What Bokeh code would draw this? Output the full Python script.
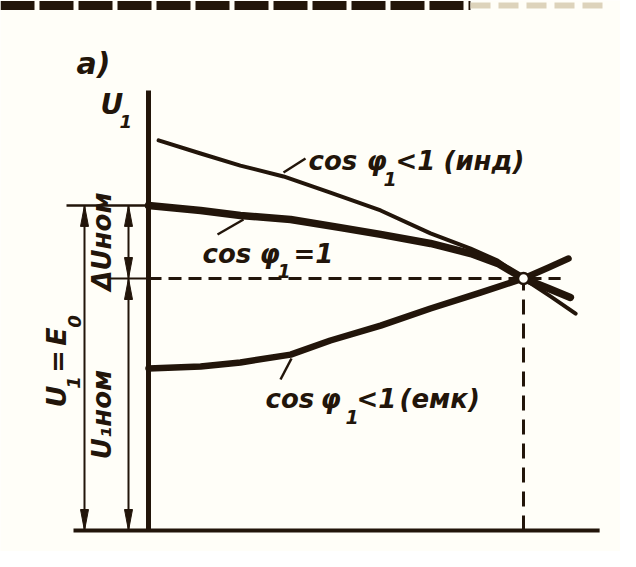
from bokeh.plotting import figure
from bokeh.models import Range1d
from bokeh.embed import file_html
from bokeh.resources import INLINE
from bokeh.core.properties import value
import numpy as np

# ---- data: current I/I_nom and voltage U/U_nom ----
I_ind = [0.027, 0.139, 0.245, 0.360, 0.485, 0.619, 0.752, 0.859, 0.931, 1.0, 1.072, 1.139]
U_ind = [1.548, 1.496, 1.448, 1.405, 1.341, 1.270, 1.179, 1.119, 1.071, 1.0, 0.929, 0.861]
I_one = [0.0, 0.139, 0.245, 0.379, 0.512, 0.619, 0.752, 0.859, 0.931, 1.0, 1.067, 1.125]
U_one = [1.290, 1.270, 1.250, 1.234, 1.202, 1.175, 1.139, 1.099, 1.060, 1.0, 0.960, 0.925]
I_emk = [0.0, 0.139, 0.245, 0.379, 0.485, 0.619, 0.752, 0.885, 1.0, 1.067, 1.120]
U_emk = [0.643, 0.651, 0.667, 0.698, 0.754, 0.813, 0.881, 0.944, 1.0, 1.044, 1.079]
E0 = 1.29
U_nom = 1.0
I_nom = 1.0
U_top = 1.746
I_end = 1.203
I_dash_end = 1.099

INK = "#22150a"
BG = "#fffef8"

# picture-position helpers (page pixels -> data units)
PX0, PY0, SX, SY = 148, 530, 375, 252
def X(px): return (px - PX0) / SX
def Y(py): return (PY0 - py) / SY
def XS(l): return [X(v) for v in l]
def YS(l): return [Y(v) for v in l]

W, H = 620, 551
p = figure(width=W, height=H, x_range=Range1d(X(0), X(W)), y_range=Range1d(Y(H), Y(0)),
           output_backend="svg", toolbar_location=None, min_border=0,
           x_axis_location=None, y_axis_location=None)
p.grid.visible = False
p.outline_line_color = None
p.background_fill_color = BG
p.border_fill_color = BG

# scan artifact strip at top
p.line([X(0), X(470)], [Y(5), Y(5)], line_width=9, line_color=INK, line_dash="34 5")
p.line([X(470), X(610)], [Y(5), Y(5)], line_width=6, line_color="#ddd3bb", line_dash="20 8")

# axes
p.line([0, 0], [0, U_top], line_width=5, line_color=INK)
p.line([X(73), I_end], [0, 0], line_width=4, line_color=INK)

# reference lines
p.line([X(66), 0], [E0, E0], line_width=2.5, line_color=INK)
p.line([X(108), 0], [U_nom, U_nom], line_width=2, line_color=INK)
p.line([0, I_dash_end], [U_nom, U_nom], line_width=3, line_color=INK, line_dash="13 7")
p.line([I_nom, I_nom], [0, U_nom], line_width=3, line_color=INK, line_dash="15 9")

# curves
p.line(I_ind, U_ind, line_width=4, line_color=INK, line_join="round", line_cap="round")
p.line(I_one, U_one, line_width=7.5, line_color=INK, line_join="round", line_cap="round")
p.line(I_emk, U_emk, line_width=6.5, line_color=INK, line_join="round", line_cap="round")

# operating point
p.scatter([I_nom], [U_nom], size=11, marker="circle", fill_color=BG, line_color=INK, line_width=2.5)

# dimension lines with arrowheads
x1, x2 = X(84), X(128)
p.line([x1, x1], [0, E0], line_width=2, line_color=INK)
p.line([x2, x2], [0, E0], line_width=2, line_color=INK)
HL, HW = 21 / SY, 4 / SX
def head(x, ytip, up):
    s = -1 if up else 1
    return [x - HW, x, x + HW], [ytip + s * HL, ytip, ytip + s * HL]
heads = [head(x1, E0, True), head(x1, 0, False), head(x2, E0, True), head(x2, U_nom, False),
         head(x2, U_nom, True), head(x2, 0, False)]
p.patches([h[0] for h in heads], [h[1] for h in heads], fill_color=INK, line_color=INK, line_width=1)

# leader lines
leaders = [((283, 172), (305, 158)), ((217, 234), (243, 219)), ((280, 379), (291, 358))]
p.multi_line([[X(a[0]), X(b[0])] for a, b in leaders], [[Y(a[1]), Y(b[1])] for a, b in leaders],
             line_width=2.5, line_color=INK)

FONT = value("DejaVu Sans")
common = dict(text_font=FONT, text_font_style="bold italic", text_color=INK,
              text_align="left", text_baseline="middle")
# curve labels, word by word
big_t = ["cos", "φ", "<1", "(инд)", "cos", "φ", "=1", "cos", "φ", "<1", "(емк)"]
big_x = [308, 366, 395, 443, 202, 259, 293, 265, 320, 356, 399]
big_y = [160, 160, 160, 160, 253, 253, 253, 398, 398, 398, 398]
p.text(XS(big_x), YS(big_y), text=big_t, text_font_size="26px", **common)
p.text(XS([383, 277, 345]), YS([178, 270, 416]), text=["1", "1", "1"], text_font_size="19px", **common)
# panel letter and axis name
p.text([X(76)], [Y(63)], text=["а)"], text_font_size="30px", **common)
p.text([X(100)], [Y(104)], text=["U"], text_font_size="28px", **common)
p.text([X(119)], [Y(121)], text=["1"], text_font_size="18px", **common)
# rotated dimension labels
rot = dict(angle=np.pi / 2, text_font=FONT, text_font_style="bold italic", text_color=INK,
           text_align="center", text_baseline="middle")
p.text(XS([56, 57, 56]), YS([396, 361, 336]), text=["U", "=", "E"], text_font_size="27px", **rot)
p.text(XS([73, 74]), YS([382, 321]), text=["1", "0"], text_font_size="18px", **rot)
p.text(XS([101, 101]), YS([241, 414]), text=["ΔUном", "U₁ном"], text_font_size="26px", **rot)

open("out.html", "w").write(file_html(p, INLINE))
